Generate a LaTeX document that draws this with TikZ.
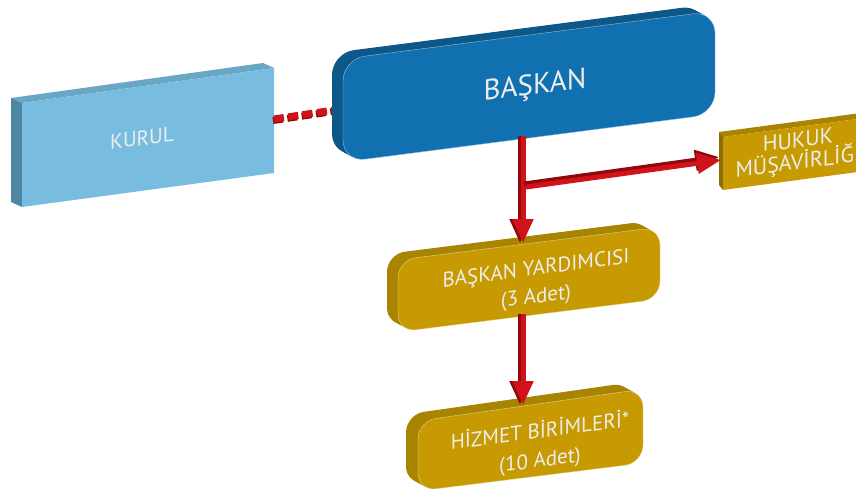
\documentclass[tikz,border=0pt]{standalone}
\usepackage{fontspec}
\setsansfont{PT Sans}
\usetikzlibrary{arrows.meta}
\definecolor{kurulFront}{HTML}{78BDDF}
\definecolor{kurulTop}{HTML}{6AA6C6}
\definecolor{kurulSide}{HTML}{4F86A3}
\definecolor{baskanFront}{HTML}{1170B0}
\definecolor{baskanSide}{HTML}{0D5888}
\definecolor{goldFront}{HTML}{C69A00}
\definecolor{goldTop}{HTML}{A88400}
\definecolor{goldSide}{HTML}{8C6E00}
\definecolor{arrowRed}{HTML}{D2121A}
\definecolor{arrowDark}{HTML}{8E0A0A}
\definecolor{textColor}{HTML}{EDEDED}

\begin{document}
\begin{tikzpicture}[x=1pt, y=-1pt, font=\sffamily,
		boxtext/.style={text=textColor, align=center, yslant=0.13},
		redarrow/.style={line width=5pt, draw=arrowRed, -{Triangle[width=20pt, length=24pt]}},
		darkarrow/.style={line width=5pt, draw=arrowDark, -{Triangle[width=20pt, length=24pt]}},
		frontedge/.style={draw=white!55!#1, line width=0.4pt}
	]
		\useasboundingbox (0,0) rectangle (856,492);
		
		% --- 1. Shape paths (front faces) ---
		\def\baskanPath{(343,59) -- (715,11) -- (715,114) -- (343,162) -- cycle}
		\def\yardPath{(398,260) -- (660,227) -- (660,299) -- (398,332) -- cycle}
		\def\hizmetPath{(418,421) -- (643,389) -- (643,463) -- (418,491) -- cycle}
		
		% --- 2. KURUL (flat block) ---
		\fill[kurulTop] (22,103) -- (274,68) -- (263,63) -- (11,98) -- cycle;
		\fill[kurulSide] (22,103) -- (11,98) -- (11,202) -- (22,207) -- cycle;
		\fill[kurulFront] (22,103) -- (274,68) -- (274,173) -- (22,207) -- cycle;
		\node[boxtext, font=\sffamily\fontsize{21}{23}\selectfont] (kurul) at (142,138) {KURUL};
		
		% dotted link, behind the BASKAN block
		\coordinate (kurul-e) at (274,119);
		\coordinate (baskan-w) at (334,110);
		\draw[line width=7pt, draw=arrowDark, dash pattern=on 10pt off 4.5pt,
		transform canvas={shift={(-1,1.5)}}] (kurul-e) -- (baskan-w);
		\draw[line width=7pt, draw=arrowRed, dash pattern=on 10pt off 4.5pt] (kurul-e) -- (baskan-w);
		
		% --- 3. BASKAN (rounded block) ---
		\foreach \d in {11,...,1} {
			\fill[baskanSide, rounded corners=22pt, shift={(-\d,-0.55*\d)}] \baskanPath;
		}
		\fill[baskanFront, frontedge=baskanFront, rounded corners=22pt] \baskanPath;
		\node[boxtext, font=\sffamily\fontsize{29}{32}\selectfont] (baskan) at (535,87) {BAŞKAN};
		
		% --- 4. HUKUK MUSAVIRLIGI (flat block, cut by the border) ---
		\fill[goldTop] (723,137) -- (880,116) -- (876,111) -- (719,132) -- cycle;
		\fill[goldSide] (723,137) -- (719,132) -- (719,185) -- (723,190) -- cycle;
		\fill[goldFront] (723,137) -- (880,116) -- (880,169) -- (723,190) -- cycle;
		\node[boxtext, font=\sffamily\fontsize{22}{22}\selectfont] (hukuk) at (798,153) {HUKUK\\MÜŞAVİRLİĞİ};
		
		% --- 5. BASKAN YARDIMCISI ---
		\foreach \d in {11,...,1} {
			\fill[goldTop, rounded corners=18pt, shift={(-\d,-0.55*\d)}] \yardPath;
		}
		\fill[goldFront, frontedge=goldFront, rounded corners=18pt] \yardPath;
		\node[boxtext, font=\sffamily\fontsize{21}{28}\selectfont] (yard) at (536,284) {BAŞKAN YARDIMCISI\\(3 Adet)};
		
		% --- 6. HIZMET BIRIMLERI ---
		\foreach \d in {12,...,1} {
			\fill[goldTop, rounded corners=18pt, shift={(-\d,-0.55*\d)}] \hizmetPath;
		}
		\fill[goldFront, frontedge=goldFront, rounded corners=18pt] \hizmetPath;
		\node[boxtext, font=\sffamily\fontsize{21}{29}\selectfont] (hizmet) at (540,446) {HİZMET BİRİMLERİ*\\(10 Adet)};
		
		% --- 7. Red arrows ---
		\coordinate (baskan-s) at (523,136);
		\coordinate (yard-n) at (523,243);
		\coordinate (yard-s) at (523,314);
		\coordinate (hizmet-n) at (523,405);
		\coordinate (branch) at (526,187);
		\coordinate (hukuk-w) at (721,160);
		
		\draw[darkarrow, transform canvas={shift={(-3,0)}}] (baskan-s) -- (yard-n);
		\draw[redarrow] (baskan-s) -- (yard-n);
		\draw[darkarrow, transform canvas={shift={(-2,-3)}}] (branch) -- (hukuk-w);
		\draw[redarrow] (branch) -- (hukuk-w);
		\draw[darkarrow, transform canvas={shift={(-3,0)}}] (yard-s) -- (hizmet-n);
		\draw[redarrow] (yard-s) -- (hizmet-n);
		
	\end{tikzpicture}
\end{document}
